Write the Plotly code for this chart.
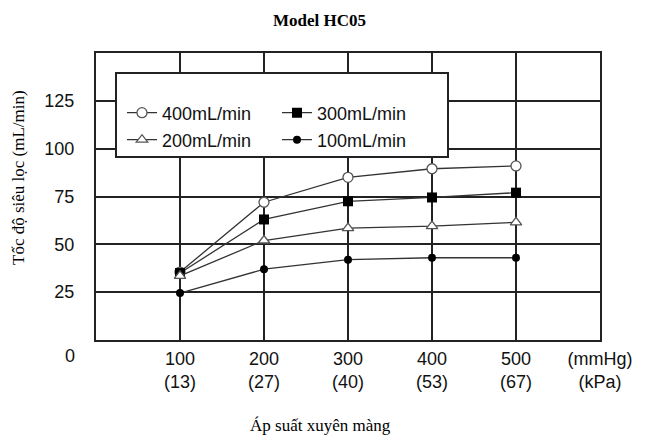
import plotly.graph_objects as go

pressure_mmhg = [100, 200, 300, 400, 500]
pressure_kpa = [13, 27, 40, 53, 67]
series_names = ["400mL/min", "300mL/min", "200mL/min", "100mL/min"]
flow_400 = [35.5, 72, 85, 89.5, 91]
flow_300 = [35, 63, 72.5, 74.5, 77]
flow_200 = [33.5, 52, 58.5, 59.5, 61.5]
flow_100 = [24.5, 37, 42, 43, 43]
y_ticks = [25, 50, 75, 100, 125]

W, H = 656, 445
L, R, T, B = 96, 56, 53, 105
pw, ph = W - L - R, H - T - B

def px(x):
    return (x - L) / pw

def py(y):
    return (H - B - y) / ph

sans = "Liberation Sans, Arial, sans-serif"
serif = "Liberation Serif, Times New Roman, serif"
line_col = "#333333"

styles = [
    dict(symbol="circle", color="white", line=dict(color="#555555", width=1.3), size=10),
    dict(symbol="square", color="black", line=dict(color="black", width=0), size=10),
    dict(symbol="triangle-up", color="white", line=dict(color="#555555", width=1.3), size=10),
    dict(symbol="circle", color="black", line=dict(color="black", width=0), size=8),
]
data = [flow_400, flow_300, flow_200, flow_100]
legends = ["legend", "legend", "legend2", "legend2"]

fig = go.Figure()
for name, ys, st, lg in zip(series_names, data, styles, legends):
    fig.add_trace(go.Scatter(
        x=pressure_mmhg, y=ys, name=name, mode="lines+markers",
        line=dict(color=line_col, width=1.3),
        marker=st, legend=lg,
    ))

tickvals = pressure_mmhg + [600]
ticktext = [f"{m}<br>({k})" for m, k in zip(pressure_mmhg, pressure_kpa)] + ["(mmHg)<br>(kPa)"]

leg_common = dict(
    orientation="h", xanchor="left", yanchor="middle",
    bgcolor="rgba(0,0,0,0)", borderwidth=0,
    font=dict(family=sans, size=18, color="#111111"),
    entrywidth=110, entrywidthmode="pixels", itemwidth=30,
)

def ann(text, x, y, font, **kw):
    return dict(text=text, xref="paper", yref="paper", x=px(x), y=py(y),
                xanchor="center", yanchor="middle", showarrow=False, font=font, **kw)

fig.update_layout(
    width=W, height=H,
    margin=dict(l=L, r=R, t=T, b=B),
    paper_bgcolor="white", plot_bgcolor="white",
    xaxis=dict(
        range=[0, 600], tickvals=tickvals, ticktext=ticktext,
        showgrid=True, gridcolor="#222222", gridwidth=2,
        showline=True, linecolor="#222222", linewidth=2, mirror=True,
        ticks="", ticklabelstandoff=1, zeroline=False,
        tickfont=dict(family=sans, size=18, color="#111111"),
    ),
    yaxis=dict(
        range=[0, 150], tickvals=y_ticks,
        showgrid=True, gridcolor="#222222", gridwidth=2,
        showline=True, linecolor="#222222", linewidth=2, mirror=True,
        ticks="", ticklabelstandoff=16, zeroline=False,
        tickfont=dict(family=sans, size=18, color="#111111"),
    ),
    legend=dict(x=px(122), y=py(113), **leg_common),
    legend2=dict(x=px(122), y=py(140), **leg_common),
    shapes=[dict(type="rect", xref="paper", yref="paper",
                 x0=px(116), x1=px(448), y0=py(157), y1=py(73),
                 line=dict(color="#222222", width=2), fillcolor="white", layer="above")],
    annotations=[
        ann("<b>Model HC05</b>", 319, 20, dict(family=serif, size=17, color="black")),
        ann("Tốc độ siêu lọc (mL/min)", 18, 178, dict(family=serif, size=17, color="black"),
            textangle=-90),
        ann("Áp suất xuyên màng", 320, 425, dict(family=serif, size=17, color="black")),
        ann("0", 70, 356, dict(family=sans, size=18, color="#111111")),
    ],
    showlegend=True,
)

fig.write_html("out.html", post_script="document.body.style.margin='0';",
               config={"displayModeBar": False})
